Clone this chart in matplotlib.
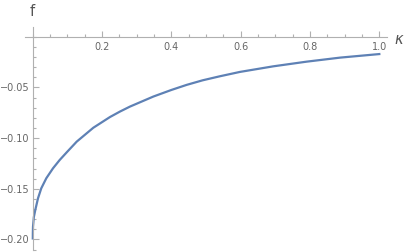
import numpy as np
import matplotlib
matplotlib.use('Agg')
import matplotlib.pyplot as plt
from matplotlib.ticker import MultipleLocator, FixedLocator, FixedFormatter

# values
kappa = [0.0, 0.0002, 0.0006, 0.003, 0.0072, 0.015, 0.0245, 0.039, 0.0583, 0.0776,
         0.0996, 0.1267, 0.1746, 0.2228, 0.2517, 0.2805, 0.348, 0.40, 0.444, 0.49,
         0.540, 0.598, 0.694, 0.79, 0.887, 1.0]
f_vals = [-0.199, -0.193, -0.1873, -0.178, -0.1709, -0.1594, -0.1495, -0.1396, -0.1298, -0.1216,
          -0.1134, -0.1035, -0.0898, -0.0792, -0.0738, -0.0689, -0.0590, -0.0525, -0.0475, -0.0430,
          -0.0390, -0.0347, -0.0292, -0.0246, -0.0206, -0.0171]

x_ticks = [0.2, 0.4, 0.6, 0.8, 1.0]
x_labels = ['0.2', '0.4', '0.6', '0.8', '1.0']
y_ticks = [-0.05, -0.10, -0.15, -0.20]
y_labels = ['\u22120.05', '\u22120.10', '\u22120.15', '\u22120.20']

W, H = 407, 252
fig = plt.figure(figsize=(W / 100, H / 100), dpi=100)
ax = fig.add_axes([25 / W, 2 / H, (386.7 - 25) / W, (250 - 27) / H])

ax.plot(kappa, f_vals, color='#5E81B5', lw=1.6, solid_joinstyle='round')

ax.set_xlim(-0.0225, 1.0213)
ax.set_ylim(-0.2104, 0.0096)

axis_col = '#b0b0b0'
for s in ['top', 'right']:
    ax.spines[s].set_visible(False)
ax.spines['left'].set_position(('data', 0))
ax.spines['bottom'].set_position(('data', 0))
for s in ['left', 'bottom']:
    ax.spines[s].set_color(axis_col)
    ax.spines[s].set_linewidth(0.8)

ax.xaxis.set_major_locator(FixedLocator(x_ticks))
ax.xaxis.set_major_formatter(FixedFormatter(x_labels))
ax.xaxis.set_minor_locator(MultipleLocator(0.05))
ax.yaxis.set_major_locator(FixedLocator(y_ticks))
ax.yaxis.set_major_formatter(FixedFormatter(y_labels))
ax.yaxis.set_minor_locator(MultipleLocator(0.01))

ax.tick_params(which='both', direction='in', color=axis_col, width=0.8,
               labelsize=7, labelcolor='#666666')
ax.tick_params(which='major', length=4)
ax.tick_params(which='minor', length=2.2)
ax.tick_params(axis='x', pad=4)
ax.tick_params(axis='y', pad=2.5)

fig.text(32 / W, 1 - 12 / H, 'f', color='#555555', fontsize=10.5,
         ha='center', va='center')
fig.text(399 / W, 1 - 40 / H, '\u03ba', color='#555555', fontsize=10.5,
         style='italic', ha='center', va='center')

fig.savefig('out.png', dpi=100)
